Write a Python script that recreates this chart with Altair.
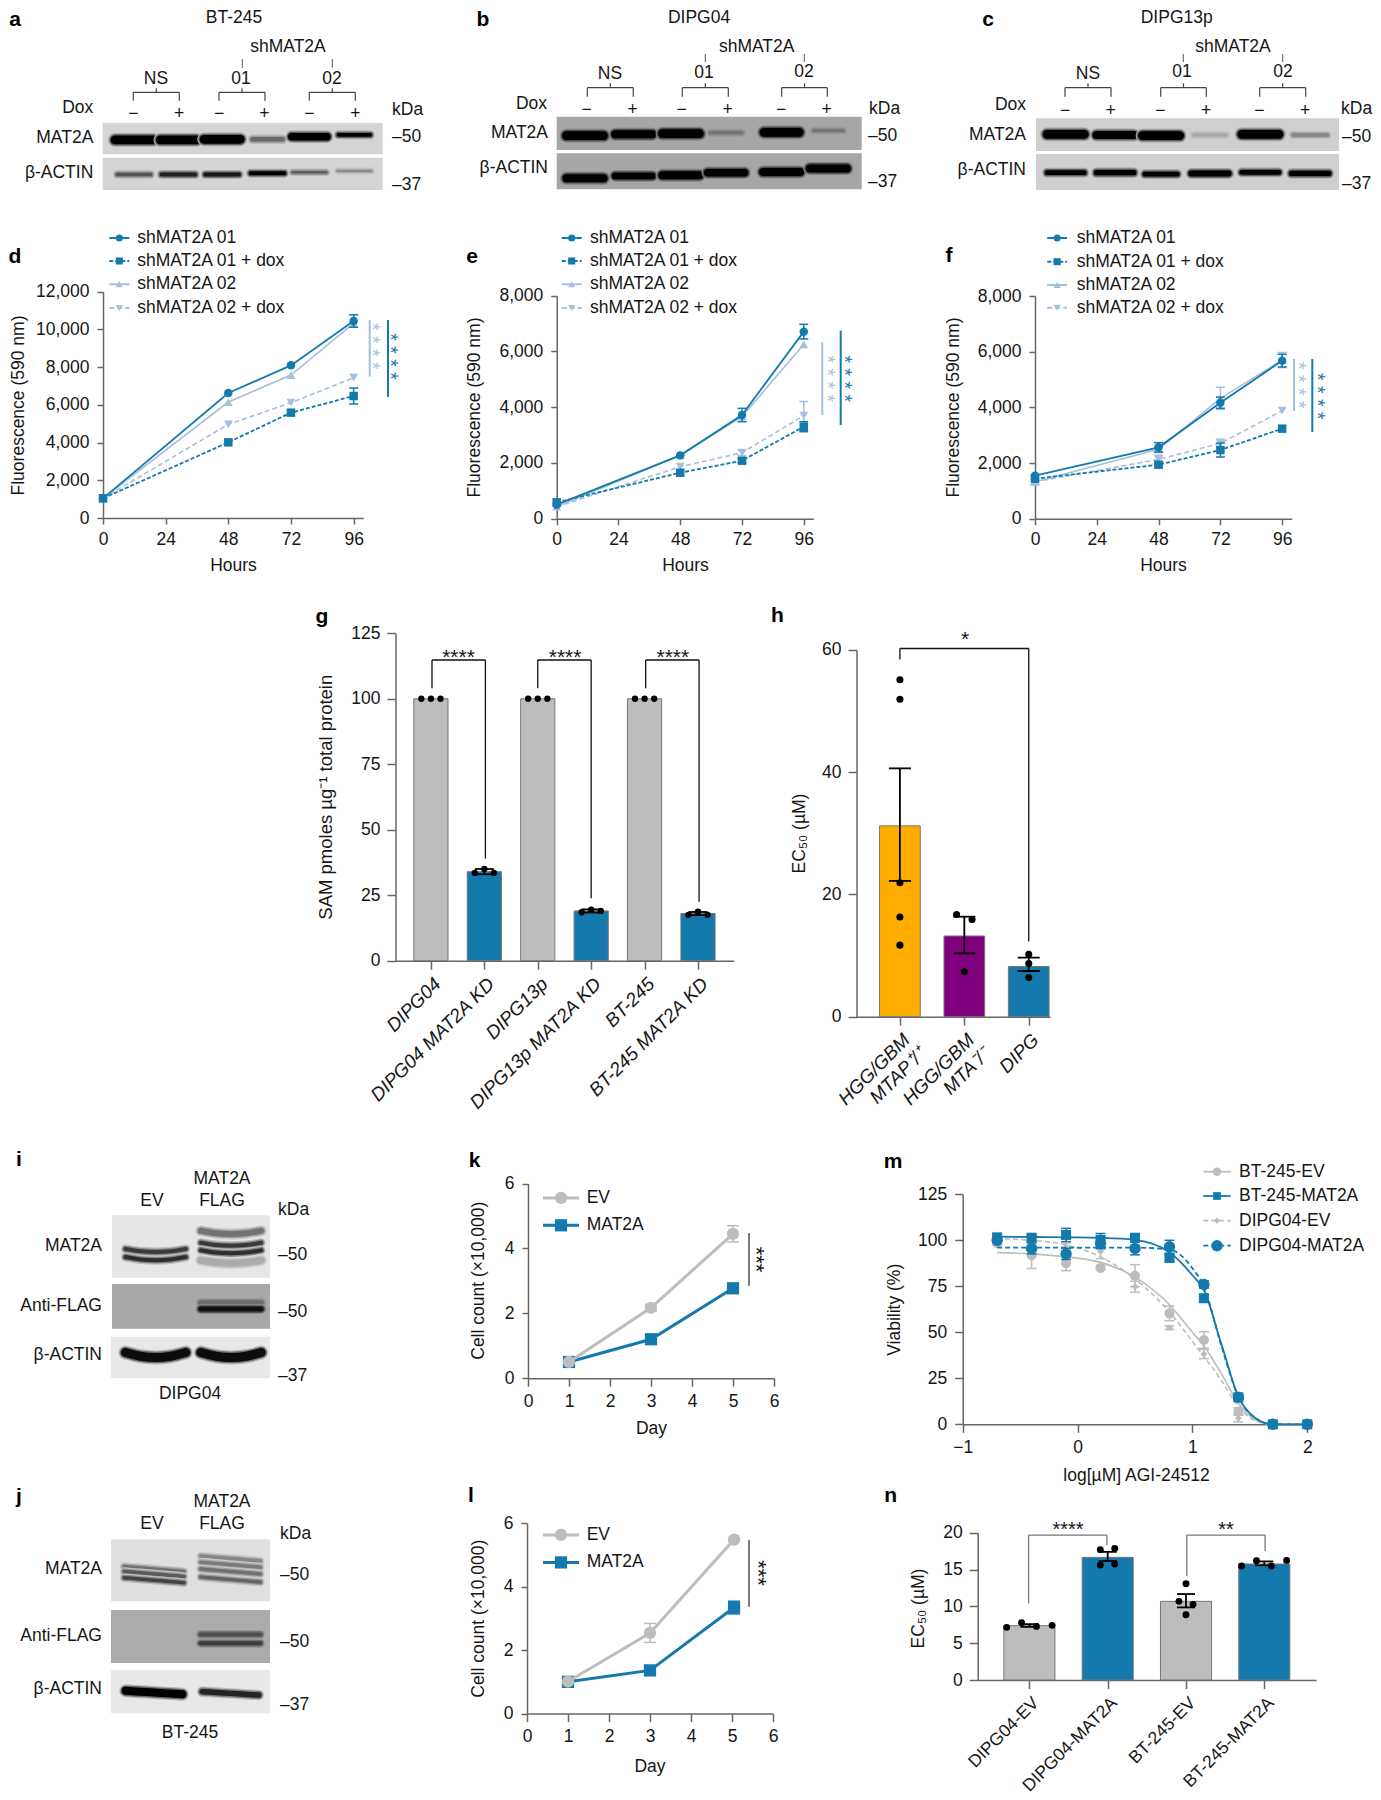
import json
import altair as alt
import pandas as pd

W, H = 1365, 1784
FONT = "Liberation Sans"
FS = 17.5
INK = "#161616"
AX = "#666666"
BLUE = "#1479ac"
LIGHT = "#a6bfdd"
GREY = "#bdbdbd"

# ---------- panels d, e, f ----------
hours = [0, 48, 72, 96]
d_01 = [1043, 6627, 8094, 10445]
d_01_err = [0, 0, 0, 330]
d_01d = [1043, 4012, 5585, 6468]
d_01d_err = [0, 0, 0, 424]
d_02 = [1043, 6150, 7580, 10320]
d_02_err = [0, 0, 0, 0]
d_02d = [1043, 4966, 6115, 7440]
d_02d_err = [0, 0, 0, 0]

e_01 = [502, 2272, 3720, 6710]
e_01_err = [0, 0, 240, 263]
e_01d = [586, 1650, 2081, 3300]
e_01d_err = [0, 0, 80, 180]
e_02 = [430, 2272, 3660, 6256]
e_02_err = [0, 0, 0, 0]
e_02d = [430, 1866, 2368, 3696]
e_02d_err = [0, 0, 100, 510]

f_01 = [1545, 2563, 4168, 5677]
f_01_err = [0, 170, 200, 228]
f_01d = [1437, 1940, 2467, 3234]
f_01d_err = [0, 100, 250, 0]
f_02 = [1330, 2490, 4323, 5700]
f_02_err = [100, 100, 400, 270]
f_02d = [1330, 2130, 2707, 3880]
f_02d_err = [100, 150, 150, 0]

legend_sh = ["shMAT2A 01", "shMAT2A 01 + dox", "shMAT2A 02", "shMAT2A 02 + dox"]

# ---------- panel g ----------
g_labels = ["DIPG04", "DIPG04 MAT2A KD", "DIPG13p", "DIPG13p MAT2A KD", "BT-245", "BT-245 MAT2A KD"]
g_values = [100, 34, 100, 19, 100, 18]
g_err = [0, 1, 0, 0.6, 0, 0.6]
g_dot_bar = [0, 0, 0, 1, 1, 1, 2, 2, 2, 3, 3, 3, 4, 4, 4, 5, 5, 5]
g_dot_off = [-0.18, 0, 0.18] * 6
g_dot_val = [100, 100, 100, 33.5, 35, 33.5, 100, 100, 100, 18.5, 19.5, 19, 100, 100, 100, 17.5, 18.7, 17.5]

# ---------- panel h ----------
h_labels = [["HGG/GBM", "MTAP⁺/⁺"], ["HGG/GBM", "MTA⁻/⁻"], ["DIPG"]]
h_values = [31.2, 13.2, 8.2]
h_lo = [22.2, 10.35, 7.47]
h_hi = [40.6, 16.35, 9.65]
h_dot_bar = [0, 0, 0, 0, 0, 1, 1, 1, 2, 2, 2]
h_dot_off = [0, 0, 0, 0, 0, -0.12, 0.12, 0, 0, 0, 0]
h_dot_val = [55.1, 51.9, 21.9, 16.3, 11.7, 16.7, 15.9, 7.36, 10.2, 8.7, 6.4]

# ---------- panels k, l ----------
days = [1, 3, 5]
k_ev = [0.5, 2.17, 4.45]
k_ev_err = [0, 0.1, 0.25]
k_mat = [0.5, 1.2, 2.77]
k_mat_err = [0.08, 0.08, 0.1]
l_days = [1, 3, 5.05]
l_ev = [1.01, 2.54, 5.48]
l_ev_err = [0, 0.3, 0.05]
l_mat = [1.0, 1.36, 3.34]
l_mat_err = [0.08, 0.15, 0.2]

# ---------- panel m ----------
m_x = [-0.7, -0.4, -0.1, 0.2, 0.5, 0.8, 1.1, 1.4, 1.7, 2.0]
m_bt_ev = [98.4, 91.7, 87.5, 85, 80.8, 60.3, 45.8, 6.9, 0, 0]
m_bt_ev_err = [1, 7, 4, 1, 6, 4, 4.5, 2, 0, 0]
m_bt_mat = [101.6, 101.4, 102.9, 100.2, 101.4, 90.4, 68.5, 14.7, 0, 0]
m_bt_mat_err = [2, 1.5, 3.6, 3.5, 2, 2, 2, 1, 0, 0]
m_dp_ev = [99, 98, 96.5, 94, 74.8, 52.5, 38.2, 3.3, 0, 0]
m_dp_ev_err = [1, 2, 2, 4, 3, 1, 2.5, 2, 0, 0]
m_dp_mat = [100, 95.6, 92.6, 98.4, 95.6, 96.5, 76, 14.7, 0, 0]
m_dp_mat_err = [1, 3, 3, 3, 3.5, 3.5, 2, 1, 0, 0]
c_x = [-0.7, -0.4, -0.1, 0.2, 0.5, 0.8, 1.0, 1.1, 1.25, 1.4, 1.55, 1.7, 2.0]
c_bt_ev = [93.3, 92.6, 91, 88, 80, 65, 50, 42.6, 27.7, 11.4, 2.4, 0, 0]
c_bt_mat = [102, 101.8, 101.6, 101.3, 100.2, 93.5, 81, 73, 44, 15, 3.3, 0, 0]
c_dp_ev = [100.9, 100, 97.5, 91, 79, 61, 45, 36.8, 24, 9.6, 1.8, 0, 0]
c_dp_mat = [96, 96, 96, 96, 96, 95, 84.8, 74.8, 43, 15, 3.3, 0, 0]
legend_m = ["BT-245-EV", "BT-245-MAT2A", "DIPG04-EV", "DIPG04-MAT2A"]

# ---------- panel n ----------
n_labels = ["DIPG04-EV", "DIPG04-MAT2A", "BT-245-EV", "BT-245-MAT2A"]
n_values = [7.37, 16.65, 10.68, 15.75]
n_lo = [7.2, 16.15, 9.86, 15.57]
n_hi = [7.6, 17.4, 11.67, 16.1]
n_dot_bar = [0, 0, 0, 0, 1, 1, 1, 1, 2, 2, 2, 2, 3, 3, 3, 3]
n_dot_off = [-0.29, -0.1, 0.09, 0.29, -0.094, 0.09, -0.094, 0.09, 0, -0.09, 0.09, 0, -0.29, -0.1, 0.09, 0.285]
n_dot_val = [7.15, 7.78, 7.28, 7.42, 17.7, 17.87, 15.6, 15.75, 13.08, 10.68, 10.27, 8.87, 15.48, 16.2, 15.48, 16.24]

# ---------- blots: lane, relative y, half width (lanes), thickness, darkness ----------
a1 = dict(lane=[0, 1.006, 2, 3.03, 3.98, 5], y=[.54, .54, .52, .52, .44, .38], half=[.43, .41, .41, .34, .4, .36],
          thick=[8.7, 8.7, 8.7, 4.5, 7.3, 3.6], dark=[1, 1, 1, .5, 1, 1])
a2 = dict(lane=[0, 1.006, 2, 3.03, 3.98, 5], y=[.52, .52, .52, .48, .45, .41], half=[.38] * 6,
          thick=[3.3, 4, 4, 4, 2.7, 2], dark=[.6, .85, .9, 1, .55, .35])
b1 = dict(lane=[0, 1, 1.97, 2.9, 4.04, 5], y=[.57, .53, .51, .48, .47, .42], half=[.38, .38, .38, .32, .36, .3],
          thick=[8.7, 8, 8.7, 3.3, 8.7, 2.7], dark=[1, 1, 1, .3, 1, .3])
b2 = dict(lane=[0, 1, 1.97, 2.9, 4.04, 5], y=[.69, .63, .61, .54, .52, .42], half=[.38] * 6,
          thick=[8, 6.7, 8, 7.3, 8, 8], dark=[1] * 6)
c1 = dict(lane=[0, 1.01, 1.95, 2.95, 3.98, 5], y=[.49, .51, .53, .51, .49, .51], half=[.38, .38, .38, .33, .38, .35],
          thick=[8.7, 8, 8.7, 3, 8.7, 3.3], dark=[1, 1, 1, .2, 1, .35])
c2 = dict(lane=[0, 1.01, 1.95, 2.95, 3.98, 5], y=[.52, .52, .56, .54, .51, .54], half=[.38, .38, .33, .38, .38, .38],
          thick=[4.7, 5.3, 4.7, 6, 4.7, 5.3], dark=[1] * 6)
i1 = dict(lane=[0, 0, 1, 1, 1, 1], y=[.59, .72, .30, .49, .61, .77], half=[.4] * 6,
          thick=[4, 4, 6, 4, 4, 7], dark=[.75, .8, .5, .75, .8, .25], smile=-.05)
i2 = dict(lane=[1, 1], y=[.42, .56], half=[.4, .4], thick=[5, 5], dark=[.35, .9])
i3 = dict(lane=[0, 1], y=[.5, .5], half=[.4, .4], thick=[9, 9], dark=[.95, .95], smile=-.12)
j1 = dict(lane=[0, 0, 0, 1, 1, 1, 1], y=[.48, .56, .66, .31, .41, .52, .65], half=[.39] * 7,
          thick=[3.5] * 7, dark=[.5, .6, .7, .4, .45, .5, .55], tilt=.04)
j2 = dict(lane=[1, 1], y=[.46, .63], half=[.39, .39], thick=[4, 4], dark=[.55, .65])
j3 = dict(lane=[0, 1], y=[.52, .54], half=[.37, .37], thick=[8, 5.5], dark=[1, .85], tilt=.04)


def X(v):
    return v - 8


def Y(v):
    return v - 8


def T(x, y, s, align="center", size=FS, weight="normal", angle=0, color=INK):
    return alt.Chart().mark_text(align=align, baseline="middle", font=FONT, fontSize=size,
                                 fontWeight=weight, color=color, angle=angle).encode(
        x=alt.value(X(x)), y=alt.value(Y(y)), text=alt.value(s))


def Letter(x, y, s):
    return T(x, y, s, size=21, weight="bold", color="#000000")


def R(x0, y0, x1, y1, color="#444444", w=1.2):
    m = alt.Chart().mark_rule(color=color, strokeWidth=w)
    if x0 == x1:
        return m.encode(x=alt.value(X(x0)), y=alt.value(Y(y0)), y2=alt.value(Y(y1)))
    return m.encode(x=alt.value(X(x0)), x2=alt.value(X(x1)), y=alt.value(Y(y0)))


def stars(x, y, s, color=INK, size=19.5):
    """A column of significance stars, written as one rotated string."""
    return T(x - size * 0.25, y, s, size=size, angle=90, color=color)


def key(x0, x1, y, color, dash, shape, size, w=2, label=None, tx=None):
    rule = alt.Chart().mark_rule(color=color, strokeWidth=w, strokeDash=dash).encode(
        x=alt.value(X(x0)), x2=alt.value(X(x1)), y=alt.value(Y(y)))
    pt = alt.Chart().mark_point(shape=shape, filled=True, color=color, size=size, opacity=1).encode(
        x=alt.value(X((x0 + x1) / 2)), y=alt.value(Y(y)))
    return [rule, pt, T(tx, y, label, align="left")]


def sc(d0, d1, r0, r1):
    return alt.Scale(domain=[d0, d1], range=[r0, r1], nice=False, zero=False)


def axis_y(ax_x, values, fmt, title, tx, ty, tick=6, pad=8, tsize=FS):
    return alt.Axis(orient="left", offset=-X(ax_x), values=values, format=fmt, grid=False,
                    domainColor=AX, domainWidth=1.5, tickColor=AX, tickWidth=1.5, tickSize=tick,
                    labelFont=FONT, labelFontSize=FS, labelColor=INK, labelPadding=pad, labelOverlap=False,
                    labelFlush=False, title=title, titleFont=FONT, titleFontSize=tsize, titleFontWeight="normal",
                    titleColor=INK, titleAngle=270, titleAlign="center", titleBaseline="middle",
                    titleX=tx - ax_x, titleY=Y(ty))


def axis_x(ax_y, values, fmt=None, title=None, tx=0, ty=0, tick=6, pad=6, **kw):
    d = dict(orient="bottom", offset=Y(ax_y) - H, values=values, grid=False,
             domainColor=AX, domainWidth=1.5, tickColor=AX, tickWidth=1.5, tickSize=tick,
             labelFont=FONT, labelFontSize=FS, labelColor=INK, labelPadding=pad, labelOverlap=False,
             labelFlush=False)
    if fmt:
        d["format"] = fmt
    if title:
        d.update(title=title, titleFont=FONT, titleFontSize=FS, titleFontWeight="normal", titleColor=INK,
                 titleAlign="center", titleBaseline="middle", titleX=X(tx), titleY=ty - ax_y)
    else:
        d["title"] = None
    d.update(kw)
    return alt.Axis(**d)


def axes_of(sx, sy, ax, ay):
    """A transparent carrier for a panel's two axes."""
    df = pd.DataFrame({"x": [sx.domain[0]], "y": [sy.domain[0]]})
    return alt.Chart(df).mark_point(opacity=0).encode(
        x=alt.X("x:Q", scale=sx, axis=ax), y=alt.Y("y:Q", scale=sy, axis=ay))


def series(xs, ys, errs, sx, sy, color, dash, shape, size, w=1.8, cap=9, ptx=None, pty=None, perr=None, interp="linear"):
    """One line with its markers; ptx/pty give separate markers when the line is a fitted curve."""
    line_df = pd.DataFrame({"x": xs, "y": ys})
    mx = ptx if ptx is not None else xs
    my = pty if pty is not None else ys
    me = perr if perr is not None else errs
    pts = pd.DataFrame({"x": mx, "y": my, "e": me})
    pts["lo"] = pts.y - pts.e
    pts["hi"] = pts.y + pts.e
    err = pts[pts.e > 0]
    xe = alt.X("x:Q", scale=sx, axis=None)
    ye = alt.Y("y:Q", scale=sy, axis=None)
    props = dict(color=color, strokeWidth=w, interpolate=interp)
    if dash:
        props["strokeDash"] = dash
    out = [alt.Chart(line_df).mark_line(**props).encode(x=xe, y=ye)]
    if len(err):
        lo = alt.Y("lo:Q", scale=sy, axis=None)
        hi = alt.Y("hi:Q", scale=sy, axis=None)
        out.append(alt.Chart(err).mark_rule(color=color, strokeWidth=1.5).encode(x=xe, y=lo, y2="hi:Q"))
        out.append(alt.Chart(err).mark_tick(color=color, thickness=1.5, size=cap, orient="horizontal", opacity=1).encode(x=xe, y=lo))
        out.append(alt.Chart(err).mark_tick(color=color, thickness=1.5, size=cap, orient="horizontal", opacity=1).encode(x=xe, y=hi))
    out.append(alt.Chart(pts).mark_point(shape=shape, filled=True, color=color, size=size, opacity=1).encode(x=xe, y=ye))
    return out


def growth_panel(ax_x, x_end, y0, y_top, ymax, yvals, data, title_xy, hours_xy):
    sx = sc(0, 99.7, X(ax_x), X(x_end))
    sy = sc(0, ymax, Y(y0), Y(y_top))
    ax = axis_x(y0, [0, 24, 48, 72, 96], "d", "Hours", hours_xy[0], hours_xy[1])
    ay = axis_y(ax_x, yvals, ",d", "Fluorescence (590 nm)", title_xy[0], title_xy[1])
    o1, e1, o1d, e1d, o2, e2, o2d, e2d = data
    layers = []
    layers += series(hours, o2d, e2d, sx, sy, LIGHT, [5, 3], "triangle-down", 80, w=1.6)
    layers += series(hours, o2, e2, sx, sy, LIGHT, None, "triangle-up", 80, w=1.6)
    layers += series(hours, o1, e1, sx, sy, BLUE, None, "circle", 72)
    layers += series(hours, o1d, e1d, sx, sy, BLUE, [4, 2], "square", 72)
    return [axes_of(sx, sy, ax, ay), alt.layer(*layers)]


def bar_panel(ax_x, x_end, y0, y_top, ymax, yvals, d0, d1, half, values, colors, lo, hi,
              dbar, doff, dval, labels_expr, title, tx, ty, italic, cap, dot, brackets, br_color, tsize=FS, lsize=FS):
    sx = sc(d0, d1, X(ax_x), X(x_end))
    sy = sc(0, ymax, Y(y0), Y(y_top))
    n = len(values)
    df = pd.DataFrame({"a": [i - half for i in range(n)], "b": [i + half for i in range(n)],
                       "v": values, "z": [0] * n, "c": colors, "i": list(range(n)), "lo": lo, "hi": hi})
    ax_kw = dict(labelExpr=labels_expr, labelAngle=-45, labelAlign="right", labelBaseline="top", labelFontSize=lsize)
    if italic:
        ax_kw["labelFontStyle"] = "italic"
    ax = axis_x(y0, list(range(n)), None, None, tick=8.5, pad=5, **ax_kw)
    ay = axis_y(ax_x, yvals, "d", title, tx, ty, tick=8.5, pad=7, tsize=tsize)
    layers = [alt.Chart(df).mark_rect(stroke="#777777", strokeWidth=1).encode(
        x=alt.X("a:Q", scale=sx, axis=None), x2="b:Q",
        y=alt.Y("v:Q", scale=sy, axis=None), y2="z:Q",
        fill=alt.Fill("c:N", scale=None))]
    e = df[df.hi > df.lo]
    xe = alt.X("i:Q", scale=sx, axis=None)
    yl = alt.Y("lo:Q", scale=sy, axis=None)
    yh = alt.Y("hi:Q", scale=sy, axis=None)
    layers.append(alt.Chart(e).mark_rule(color="#000000", strokeWidth=1.8).encode(x=xe, y=yl, y2="hi:Q"))
    layers.append(alt.Chart(e).mark_tick(color="#000000", thickness=1.8, size=cap, orient="horizontal", opacity=1).encode(x=xe, y=yl))
    layers.append(alt.Chart(e).mark_tick(color="#000000", thickness=1.8, size=cap, orient="horizontal", opacity=1).encode(x=xe, y=yh))
    dots = pd.DataFrame({"p": [b + o for b, o in zip(dbar, doff)], "v": dval})
    layers.append(alt.Chart(dots).mark_circle(color="#000000", size=dot, opacity=1).encode(
        x=alt.X("p:Q", scale=sx, axis=None), y=alt.Y("v:Q", scale=sy, axis=None)))
    for xa, xb, top, yl_, yr_ in brackets:
        h_ = pd.DataFrame({"a": [xa], "b": [xb], "t": [top], "l": [yl_], "r": [yr_]})
        xa_ = alt.X("a:Q", scale=sx, axis=None)
        xb_ = alt.X("b:Q", scale=sx, axis=None)
        yt_ = alt.Y("t:Q", scale=sy, axis=None)
        m = alt.Chart(h_).mark_rule(color=br_color, strokeWidth=1.3)
        layers.append(m.encode(x=xa_, x2="b:Q", y=yt_))
        layers.append(m.encode(x=xa_, y=yt_, y2="l:Q"))
        layers.append(m.encode(x=xb_, y=yt_, y2="r:Q"))
    return [alt.layer(*layers), axes_of(sx, sy, ax, ay)]


def lerp_grey(bg, dark, mix):
    v = bg * (1 - dark * mix)
    v = int(max(0, min(255, round(v))))
    return "#%02x%02x%02x" % (v, v, v)


def blot(x0, x1, y0, y1, l0, sp, bg, spec=None):
    sx = sc((x0 - l0) / sp, (x1 - l0) / sp, X(x0), X(x1))
    sy = sc(0, 1, Y(y0), Y(y1))
    box = pd.DataFrame({"a": [(x0 - l0) / sp], "b": [(x1 - l0) / sp], "t": [0], "u": [1]})
    hx = "#%02x%02x%02x" % (bg, bg, bg)
    layers = [alt.Chart(box).mark_rect(fill=hx).encode(
        x=alt.X("a:Q", scale=sx, axis=None), x2="b:Q", y=alt.Y("t:Q", scale=sy, axis=None), y2="u:Q")]
    if spec:
        rows = []
        tilt = spec.get("tilt", 0)
        smile = spec.get("smile", 0)
        for b, (lane, yy, hw, th, dk) in enumerate(zip(spec["lane"], spec["y"], spec["half"], spec["thick"], spec["dark"])):
            for lev, (extra, mix) in enumerate([(5.0, 0.22), (2.6, 0.55), (0.0, 1.0)]):
                for k, t in enumerate([-1, -0.5, 0, 0.5, 1]):
                    rows.append(dict(id=f"{b}-{lev}", k=k, lane=lane + t * hw, rel=yy + tilt * t + smile * t * t,
                                     w=th + extra, col=lerp_grey(bg, dk, mix)))
        df = pd.DataFrame(rows)
        layers.append(alt.Chart(df).mark_line(interpolate="monotone", strokeCap="round").encode(
            x=alt.X("lane:Q", scale=sx, axis=None), y=alt.Y("rel:Q", scale=sy, axis=None),
            detail="id:N", order="k:Q",
            stroke=alt.Stroke("col:N", scale=None), strokeWidth=alt.StrokeWidth("w:Q", scale=None)))
    return alt.layer(*layers)


def sh_header(letter, lx, ly, title, tx, sh_x, sh_y, ticks, tk_y0, tk_y1, groups, top, leg, up, glab,
              dox, dox_y, signs, sign_y, kda, kda_y, rlab, y_m, y_b, n_x, y50, y37):
    out = [Letter(lx, ly, letter), T(tx, 18, title), T(sh_x, sh_y, "shMAT2A")]
    for t in ticks:
        out.append(R(t, tk_y0, t, tk_y1, "#555555", 1))
    for (a, b), (gx, gy, s) in zip(groups, glab):
        mid = (a + b) / 2
        out += [R(a, top, b, top), R(a, top, a, leg), R(b, top, b, leg), R(mid, up, mid, top)]
        out.append(T(gx, gy, s))
    out.append(T(dox, dox_y, "Dox", align="right"))
    for i, s in enumerate(signs):
        out.append(T(s, sign_y, "−" if i % 2 == 0 else "+"))
    out.append(T(kda, kda_y, "kDa", align="left"))
    out.append(T(rlab, y_m, "MAT2A", align="right"))
    out.append(T(rlab, y_b, "β-ACTIN", align="right"))
    out.append(T(n_x, y50, "–50", align="left"))
    out.append(T(n_x, y37, "–37", align="left"))
    return out


panels = []
deco = []

# blots a, b, c
panels += [blot(102.7, 382.7, 123, 154.3, 134, 44.07, 212, a1), blot(102.7, 382.7, 157.7, 190, 134, 44.07, 212, a2),
           blot(556.7, 861.7, 116.7, 150, 585, 48.67, 166, b1), blot(556.7, 861.7, 153.3, 189.3, 585, 48.67, 166, b2),
           blot(1036, 1339, 118.3, 151, 1065.7, 48.9, 207, c1), blot(1036, 1339, 154, 190, 1065.7, 48.9, 207, c2)]
deco += sh_header("a", 15, 20, "BT-245", 234, 288, 47, [242.3, 332.3], 59, 68,
                  [(133.3, 179.3), (219, 265), (309.3, 355.3)], 92.3, 100.7, 88.3,
                  [(156, 79, "NS"), (241, 79, "01"), (332, 79, "02")],
                  93.3, 108, [133.3, 179, 219, 264.3, 309.3, 355.3], 113.5, 392, 110, 93.3, 138, 173, 392, 137, 185)
deco += sh_header("b", 483, 20, "DIPG04", 699, 756.7, 47, [705.3, 804.3], 54, 62,
                  [(587.3, 633.3), (682.3, 728.3), (781.7, 827.3)], 87.7, 96.7, 83.3,
                  [(610, 74, "NS"), (704, 73, "01"), (804, 72, "02")],
                  547, 104, [586.7, 632.7, 681.7, 727.7, 781, 826.7], 109.5, 869, 109, 548, 133, 168, 868, 136, 182)
deco += sh_header("c", 988, 20, "DIPG13p", 1176.7, 1233, 47, [1183.3, 1282.7], 54, 62,
                  [(1065, 1111), (1160.7, 1206.3), (1259.7, 1305.7)], 87.7, 96.7, 83.3,
                  [(1088, 74, "NS"), (1182, 72, "01"), (1283, 72, "02")],
                  1026, 105, [1065, 1110.7, 1160.3, 1206, 1259.3, 1305], 110.5, 1341, 109, 1026, 135, 170, 1342, 137, 184)

# growth curves d, e, f
panels += growth_panel(103, 363.3, 518, 291.7, 12000, [0, 2000, 4000, 6000, 8000, 10000, 12000],
                       (d_01, d_01_err, d_01d, d_01d_err, d_02, d_02_err, d_02d, d_02d_err), (18, 405), (233, 565))
panels += growth_panel(556.7, 813.3, 518.7, 295.7, 8000, [0, 2000, 4000, 6000, 8000],
                       (e_01, e_01_err, e_01d, e_01d_err, e_02, e_02_err, e_02d, e_02d_err), (474, 407), (685, 565))
panels += growth_panel(1035, 1291.7, 518.7, 296, 8000, [0, 2000, 4000, 6000, 8000],
                       (f_01, f_01_err, f_01d, f_01d_err, f_02, f_02_err, f_02d, f_02d_err), (953, 407), (1163, 565))
styles = [(BLUE, [100, 0], "circle"), (BLUE, [4, 2], "square"), (LIGHT, [100, 0], "triangle-up"), (LIGHT, [5, 3], "triangle-down")]
for kx0, kx1, tx, ys in [(109.3, 129.3, 137.3, [238, 261, 284.3, 308]),
                         (561.7, 581.7, 590, [238, 261, 284.3, 308]),
                         (1047.3, 1067, 1076.7, [238, 261.7, 285, 307.7])]:
    for (c, dsh, sh), yy, lab in zip(styles, ys, legend_sh):
        deco += key(kx0, kx1, yy, c, dsh, sh, 50, 2, lab, tx)
deco += [Letter(15, 257, "d"), Letter(472, 257, "e"), Letter(949, 256, "f")]
for lx, ly0, ly1, lsx, lsy, dx, dy0, dy1, dsx, dsy in [
    (369.7, 320, 376.7, 377, 346.2, 388, 320, 397, 394.7, 356.5),
    (822.3, 342.3, 415, 832, 378.8, 840.7, 330.7, 425, 849.3, 378.8),
    (1294, 359, 411, 1303, 385.2, 1312.3, 359, 432, 1322, 396.2),
]:
    deco += [R(lx, ly0, lx, ly1, LIGHT, 2), R(dx, dy0, dx, dy1, BLUE, 2)]
    deco += [stars(lsx, lsy, "* * * *", LIGHT), stars(dsx, dsy, "* * * *", BLUE)]

# g
g_expr = json.dumps(g_labels, ensure_ascii=False) + "[datum.value]"
panels += bar_panel(395.5, 733.8, 960.7, 633.3, 125, [0, 25, 50, 75, 100, 125], -0.663, 5.67, 0.32,
                    g_values, [GREY, BLUE] * 3,
                    [v - e for v, e in zip(g_values, g_err)], [v + e for v, e in zip(g_values, g_err)],
                    g_dot_bar, g_dot_off, g_dot_val, g_expr, "SAM pmoles µg⁻¹ total protein", 325.2, 796.7, True, 19, 40,
                    [(0.02, 1.02, 114.8, 104, 39), (2, 3, 114.8, 104, 23.8), (4.02, 5.02, 114.8, 104, 22.5)], "#111111",
                    tsize=18.5, lsize=19)
deco += [Letter(322, 617, "g")]
deco += [T(x, 652 + 5.5, "****", size=21) for x in [458.5, 565.1, 672.8]]

# h
h_expr = json.dumps(h_labels, ensure_ascii=False) + "[datum.value]"
panels += bar_panel(856.5, 1050, 1016.7, 649.7, 60, [0, 20, 40, 60], -0.674, 2.33, 0.316,
                    h_values, ["#ffab00", "#800080", BLUE], h_lo, h_hi,
                    h_dot_bar, h_dot_off, h_dot_val, h_expr, "EC₅₀ (µM)", 799, 833, True, 22, 50,
                    [(0, 2, 60.2, 58.4, 12.3)], "#111111", lsize=19)
deco += [Letter(777.5, 616, "h"), T(965, 635 + 5, "*", size=21)]

# i, j blots
panels += [blot(112, 270, 1215.2, 1277.7, 155.6, 75.4, 230, i1), blot(112, 270, 1284, 1328.8, 155.6, 75.4, 168, i2),
           blot(111, 270, 1336.8, 1378.2, 155.6, 75.4, 232, i3),
           blot(111, 270, 1539.2, 1601.3, 154, 76.5, 224, j1), blot(111, 270, 1610.1, 1662.9, 154, 76.5, 171, j2),
           blot(111, 270, 1670.1, 1713.2, 154, 76.5, 232, j3)]
for let, ly, yev, ytop, kx, ky, ym, yf, yb, y50a, y50b, y37, cap, capx, capy in [
    ("i", 1160.3, 1201.2, 1178.9, 278, 1209.7, 1245.6, 1306, 1355.4, 1254.9, 1311.9, 1375.7, "DIPG04", 190, 1394.3),
    ("j", 1496.9, 1524.4, 1502.4, 280, 1533.7, 1569.2, 1635.5, 1689.1, 1575, 1641.8, 1705.2, "BT-245", 190, 1732.6),
]:
    deco += [Letter(19, ly, let), T(152, yev, "EV"), T(222, ytop, "MAT2A"), T(222, yev, "FLAG"),
             T(kx, ky, "kDa", align="left"), T(102, ym, "MAT2A", align="right"),
             T(102, yf, "Anti-FLAG", align="right"), T(102, yb, "β-ACTIN", align="right"),
             T(kx, y50a, "–50", align="left"), T(kx, y50b, "–50", align="left"), T(kx, y37, "–37", align="left"),
             T(capx, capy, cap)]


# k, l
def count_panel(ax_x, x_end, y0, y_top, dx, ev, ev_err, mat, mat_err, tx, ty, dayx, dayy):
    sx = sc(0, 6, X(ax_x), X(x_end))
    sy = sc(0, 6, Y(y0), Y(y_top))
    ax = axis_x(y0, [0, 1, 2, 3, 4, 5, 6], "d", "Day", dayx, dayy, tick=8)
    ay = axis_y(ax_x, [0, 2, 4, 6], "d", "Cell count (×10,000)", tx, ty)
    layers = series(dx, mat, mat_err, sx, sy, BLUE, None, "square", 150, w=3, cap=12)
    layers += series(dx, ev, ev_err, sx, sy, GREY, None, "circle", 150, w=3, cap=12)
    return [axes_of(sx, sy, ax, ay), alt.layer(*layers)]


panels += count_panel(528, 774, 1378.2, 1183.5, days, k_ev, k_ev_err, k_mat, k_mat_err, 478, 1280.2, 651, 1428)
panels += count_panel(527, 773, 1713.6, 1523.1, l_days, l_ev, l_ev_err, l_mat, l_mat_err, 478, 1618.2, 649.5, 1766)
for yy, c, sh, lab in [(1197.9, GREY, "circle", "EV"), (1225.3, BLUE, "square", "MAT2A"),
                       (1534.9, GREY, "circle", "EV"), (1562.4, BLUE, "square", "MAT2A")]:
    deco += key(543, 579, yy, c, [100, 0], sh, 150, 3, lab, 586.7)
deco += [Letter(474.5, 1161, "k"), Letter(471, 1496, "l"), R(749, 1232.9, 749, 1285.7, "#333333", 1.3),
         R(749, 1540, 749, 1606.8, "#333333", 1.3)]
deco += [stars(761, 1259.5, "***", size=22), stars(763, 1573, "***", size=22)]

# m
sxm = sc(-1, 2, X(962.7), X(1307.3))
sym = sc(0, 125, Y(1424.3), Y(1194.3))
axm = axis_x(1424.3, [-1, 0, 1, 2], "d", "log[µM] AGI-24512", 1136, 1475, tick=8,
             labelExpr="datum.value < 0 ? '−' + abs(datum.value) : datum.value")
aym = axis_y(962.7, [0, 25, 50, 75, 100, 125], "d", "Viability (%)", 894.3, 1309.3, tick=8)
m_layers = []
m_layers += series(c_x, c_dp_ev, None, sxm, sym, GREY, [5, 3], "diamond", 50, w=1.6, cap=10, ptx=m_x, pty=m_dp_ev, perr=m_dp_ev_err, interp="monotone")
m_layers += series(c_x, c_bt_ev, None, sxm, sym, GREY, None, "circle", 100, w=1.6, cap=10, ptx=m_x, pty=m_bt_ev, perr=m_bt_ev_err, interp="monotone")
m_layers += series(c_x, c_bt_mat, None, sxm, sym, BLUE, None, "square", 100, w=1.8, cap=10, ptx=m_x, pty=m_bt_mat, perr=m_bt_mat_err, interp="monotone")
m_layers += series(c_x, c_dp_mat, None, sxm, sym, BLUE, [5, 3], "circle", 130, w=1.8, cap=10, ptx=m_x, pty=m_dp_mat, perr=m_dp_mat_err, interp="monotone")
panels += [axes_of(sxm, sym, axm, aym), alt.layer(*m_layers)]
for yy, c, dsh, sh, sz, lab in zip([1171.7, 1196, 1220.7, 1245.7], [GREY, BLUE, GREY, BLUE], [[100, 0], [100, 0], [5, 3], [5, 3]],
                                   ["circle", "square", "diamond", "circle"], [70, 60, 40, 130], legend_m):
    deco += key(1203.3, 1230.7, yy, c, dsh, sh, sz, 1.8, lab, 1239)
deco += [Letter(893, 1161.7, "m")]

# n
n_expr = json.dumps(n_labels, ensure_ascii=False) + "[datum.value]"
panels += bar_panel(977.7, 1316, 1680, 1532.7, 20, [0, 5, 10, 15, 20], -0.66, 3.66, 0.326,
                    n_values, [GREY, BLUE, GREY, BLUE], n_lo, n_hi,
                    n_dot_bar, n_dot_off, n_dot_val, n_expr, "EC₅₀ (µM)", 918, 1608, False, 18, 48,
                    [(-0.01, 0.99, 19.68, 10.4, 18.3), (2.01, 3.01, 19.68, 14.1, 17.5)], "#777777")
deco += [Letter(890.7, 1496, "n"), T(1068, 1525 + 5, "****", size=20), T(1226, 1525 + 5, "**", size=20)]

chart = alt.layer(*panels, *deco).resolve_scale(x="independent", y="independent").properties(
    width=W, height=H, padding=0, autosize=alt.AutoSizeParams(type="none"), background="white"
).configure_view(stroke=None)

chart.save("out.html", embed_options={"renderer": "svg", "actions": False})
